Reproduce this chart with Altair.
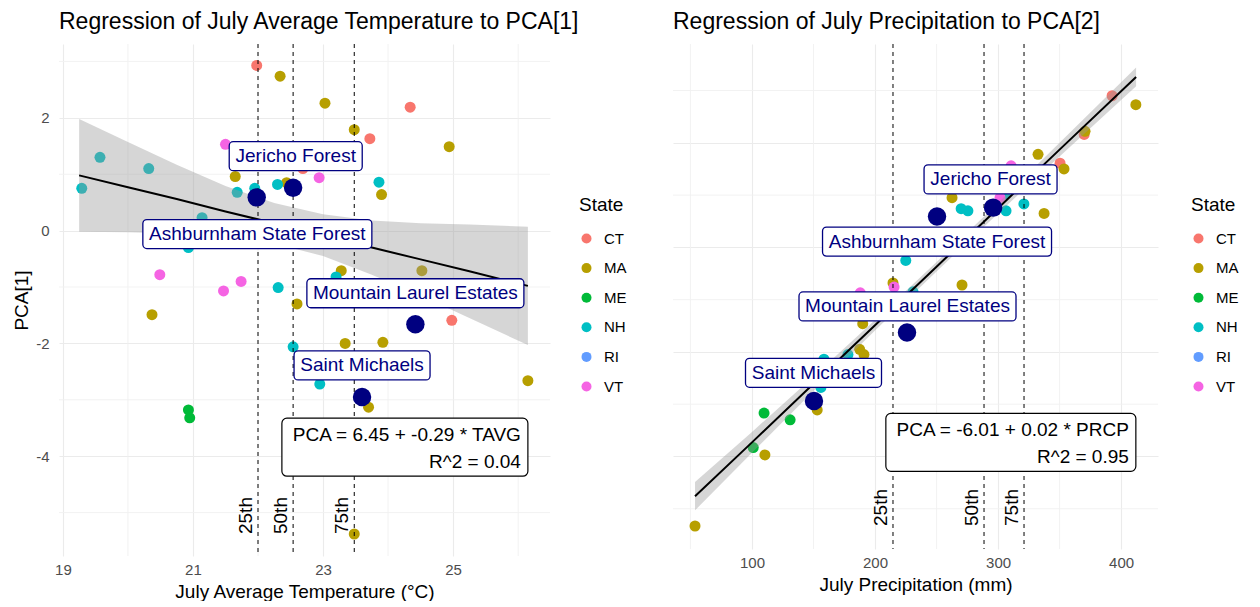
import altair as alt
import pandas as pd

FONT = "Liberation Sans"
NAVY = "#000080"
STATES = ["CT", "MA", "ME", "NH", "RI", "VT"]
STATE_COLORS = ["#F8766D", "#B79F00", "#00BA38", "#00BFC4", "#619CFF", "#F564E3"]

# ---------------- Left panel: July average temperature vs PCA[1] ----------------
t_state = (["CT"] * 5 + ["MA"] * 16 + ["ME"] * 2 + ["NH"] * 13 + ["VT"] * 5)
t_tavg = [21.98, 22.69, 24.34, 23.72, 24.98,
          22.34, 21.65, 22.44, 22.60, 20.37, 23.03, 23.48, 24.94, 23.90, 23.28,
          24.52, 23.34, 23.92, 23.70, 26.15, 23.48,
          20.93, 20.95,
          19.29, 19.57, 20.32, 21.68, 21.95, 22.30, 21.14, 20.93, 22.31, 23.86,
          23.20, 22.54, 22.95,
          21.50, 22.94, 20.49, 21.47, 21.74]
t_pca = [2.93, 1.10, 2.19, 1.63, -1.59,
         2.74, 0.96, 0.85, -1.30, -1.49, 2.26, 1.79, 1.49, 0.64, -0.71,
         -0.71, -2.00, -1.98, -3.13, -2.66, -5.38,
         -3.18, -3.32,
         0.75, 1.30, 1.10, 0.68, 0.75, 0.82, 0.23, -0.30, -1.01, 0.86,
         -0.82, -2.06, -2.72,
         1.53, 0.94, -0.78, -1.07, -0.90]

# ---------------- Right panel: July precipitation vs PCA[2] ----------------
p_state = (["CT"] * 3 + ["MA"] * 14 + ["ME"] * 3 + ["NH"] * 10 + ["VT"] * 4)
p_prcp = [392.7, 370.0, 350.4,
          412.0, 370.7, 332.5, 353.6, 262.6, 337.4, 214.6, 270.7, 190.0, 187.5,
          191.0, 153.0, 110.5, 53.7,
          109.8, 131.0, 101.0,
          321.0, 270.0, 275.5, 305.7, 306.5, 225.0, 230.9, 178.0, 158.5, 156.0,
          310.6, 301.6, 215.5, 188.0]
p_pca = [2.90, 2.16, 1.61,
         2.73, 2.22, 1.78, 1.50, 0.95, 0.65, -0.68, -0.72, -1.46, -1.95,
         -2.05, -3.11, -3.97, -5.33,
         -3.17, -3.30, -3.83,
         0.83, 0.74, 0.70, 1.02, 0.70, -0.25, -0.85, -2.05, -2.14, -2.68,
         1.56, 0.95, -0.76, -0.87]

# ---------------- Highlighted sites ----------------
sites = ["Jericho Forest", "Ashburnham State Forest", "Mountain Laurel Estates", "Saint Michaels"]
site_tavg = [22.54, 21.98, 24.42, 23.60]
site_pca1 = [0.76, 0.59, -1.66, -2.95]
site_lab_tavg = [22.58, 21.99, 24.42, 23.60]
site_lab_pca1 = [1.32, -0.06, -1.11, -2.39]
site_prcp = [296.0, 250.4, 226.0, 150.4]
site_pca2 = [0.76, 0.59, -1.63, -2.94]
site_lab_prcp = [293.9, 250.4, 226.4, 150.0]
site_lab_pca2 = [1.30, 0.11, -1.13, -2.40]

# ---------------- Fitted lines and confidence bands ----------------
fit_tavg = [19.25, 20.0, 20.75, 21.5, 22.25, 23.0, 23.75, 24.5, 25.25, 26.15]
fit_pca1 = [0.98, 0.77, 0.56, 0.34, 0.13, -0.08, -0.30, -0.51, -0.72, -0.98]
fit_pca1_lo = [-0.02, -0.03, -0.05, -0.11, -0.23, -0.45, -0.78, -1.15, -1.55, -2.03]
fit_pca1_hi = [1.98, 1.57, 1.17, 0.79, 0.49, 0.29, 0.18, 0.13, 0.11, 0.07]

fit_prcp = [53.7, 100, 150, 200, 250, 300, 350, 412.2]
fit_pca2 = [-4.76, -3.73, -2.61, -1.49, -0.37, 0.75, 1.87, 3.26]
fit_pca2_lo = [-5.03, -3.93, -2.75, -1.59, -0.46, 0.65, 1.74, 3.08]
fit_pca2_hi = [-4.49, -3.53, -2.47, -1.39, -0.28, 0.85, 2.00, 3.44]

# ---------------- Percentiles ----------------
pct_labels = ["25th", "50th", "75th"]
pct_tavg = [22.00, 22.54, 23.48]
pct_prcp = [214.6, 288.6, 321.1]

# ---------------- Axis ticks ----------------
tavg_ticks = [19, 21, 23, 25]
tavg_minor = [20, 22, 24, 26]
prcp_ticks = [100, 200, 300, 400]
prcp_minor = [50, 150, 250, 350]
pca_ticks = [-4, -2, 0, 2]
pca_minor = [-5, -3, -1, 1, 3]

eq_left = "PCA = 6.45 + -0.29 * TAVG\nR^2 = 0.04"
eq_right = "PCA = -6.01 + 0.02 * PRCP\nR^2 = 0.95"

LABEL_W = [133, 229, 217, 136]
NEG_LABEL = "datum.value < 0 ? '-' + abs(datum.value) : '' + datum.value"


def panel(pts, hl, lab, fit, pct, eq, xdom, ydom, xt, xm, yt, ym, w, h,
          title, xtitle, ytitle, eq_w, eq_cy, legend_x, legend_y, show_y):
    xaxis = alt.Axis(values=xt, title=xtitle, labelPadding=6, titlePadding=5)
    if show_y:
        yaxis = alt.Axis(values=yt, title=ytitle, labelPadding=10, titlePadding=4,
                         labelExpr=NEG_LABEL)
    else:
        yaxis = alt.Axis(values=yt, title=None, labels=False, minExtent=0, maxExtent=0)
    xs = alt.Scale(domain=xdom, nice=False, zero=False)
    ys = alt.Scale(domain=ydom, nice=False, zero=False)

    def X(f):
        return alt.X(f, type="quantitative", scale=xs, axis=xaxis)

    def Y(f):
        return alt.Y(f, type="quantitative", scale=ys, axis=yaxis)

    layers = []
    layers.append(alt.Chart(pd.DataFrame({"v": xm})).mark_rule(color="#f0f0f0", strokeWidth=0.9)
                  .encode(x=X("v")))
    layers.append(alt.Chart(pd.DataFrame({"v": ym})).mark_rule(color="#f0f0f0", strokeWidth=0.9)
                  .encode(y=Y("v")))
    layers.append(alt.Chart(pts).mark_circle(size=121, opacity=1).encode(
        x=X("x"), y=Y("y"),
        color=alt.Color("state:N", scale=alt.Scale(domain=STATES, range=STATE_COLORS),
                        legend=alt.Legend(title="State", orient="none", legendX=legend_x,
                                          legendY=legend_y, symbolType="circle",
                                          symbolSize=100, symbolStrokeWidth=0,
                                          rowPadding=13.6, titlePadding=16, labelOffset=10,
                                          padding=0))))
    layers.append(alt.Chart(fit).mark_area(color="#999999", opacity=0.4).encode(
        x=X("x"), y=Y("lo"), y2="hi"))
    layers.append(alt.Chart(fit).mark_line(color="black", strokeWidth=2).encode(
        x=X("x"), y=Y("fit")))
    layers.append(alt.Chart(pct).mark_rule(color="black", strokeDash=[4, 4], strokeWidth=1)
                  .encode(x=X("p")))
    layers.append(alt.Chart(pct).mark_text(angle=270, align="left", baseline="alphabetic",
                                           dy=-6, fontSize=19, color="black")
                  .encode(x=X("p"), y=Y("ybase"), text="lab"))
    layers.append(alt.Chart(hl).mark_circle(size=340, color=NAVY, opacity=1).encode(
        x=X("x"), y=Y("y")))
    for i in range(len(lab)):
        row = lab.iloc[[i]]
        bw = LABEL_W[i]
        layers.append(alt.Chart(row).mark_rect(
            fill="white", stroke=NAVY, strokeWidth=1.3, cornerRadius=4,
            xOffset=-bw / 2, x2Offset=bw / 2, yOffset=-14.5, y2Offset=14.5
        ).encode(x=X("lx"), x2="lx", y=Y("ly"), y2="ly"))
        layers.append(alt.Chart(row).mark_text(color=NAVY, fontSize=19, baseline="middle")
                      .encode(x=X("lx"), y=Y("ly"), text="site"))
    eqdf = pd.DataFrame({"ex": [eq[0]], "ey": [eq_cy], "t": [eq[1]]})
    layers.append(alt.Chart(eqdf).mark_rect(
        fill="white", stroke="black", strokeWidth=1.2, cornerRadius=5,
        xOffset=-eq_w, x2Offset=0, yOffset=-29, y2Offset=29
    ).encode(x=X("ex"), x2="ex", y=Y("ey"), y2="ey"))
    layers.append(alt.Chart(eqdf).mark_text(align="right", dx=-7, dy=-12, lineBreak="\n",
                                            lineHeight=27, fontSize=19, baseline="middle",
                                            color="black")
                  .encode(x=X("ex"), y=Y("ey"), text="t"))
    return alt.layer(*layers).properties(
        width=w, height=h,
        title=alt.TitleParams(title, anchor="start", frame="group", fontSize=23, offset=10))


left_pts = pd.DataFrame({"x": t_tavg, "y": t_pca, "state": t_state})
left_hl = pd.DataFrame({"x": site_tavg, "y": site_pca1})
left_lab = pd.DataFrame({"lx": site_lab_tavg, "ly": site_lab_pca1, "site": sites})
left_fit = pd.DataFrame({"x": fit_tavg, "fit": fit_pca1, "lo": fit_pca1_lo, "hi": fit_pca1_hi})
left_pct = pd.DataFrame({"p": pct_tavg, "lab": pct_labels, "ybase": [min(t_pca)] * 3})

right_pts = pd.DataFrame({"x": p_prcp, "y": p_pca, "state": p_state})
right_hl = pd.DataFrame({"x": site_prcp, "y": site_pca2})
right_lab = pd.DataFrame({"lx": site_lab_prcp, "ly": site_lab_pca2, "site": sites})
right_fit = pd.DataFrame({"x": fit_prcp, "fit": fit_pca2, "lo": fit_pca2_lo, "hi": fit_pca2_hi})
right_pct = pd.DataFrame({"p": pct_prcp, "lab": pct_labels, "ybase": [min(p_pca)] * 3})

left = panel(left_pts, left_hl, left_lab, left_fit, left_pct, (max(t_tavg), eq_left),
             [18.94, 26.49], [-5.77, 3.31], tavg_ticks, tavg_minor, pca_ticks, pca_minor,
             491, 512, "Regression of July Average Temperature to PCA[1]",
             "July Average Temperature (°C)", "PCA[1]", 246, -3.84, 520, 152, True)
right = panel(right_pts, right_hl, right_lab, right_fit, right_pct, (max(p_prcp), eq_right),
              [35.8, 430.0], [-5.77, 3.89], prcp_ticks, prcp_minor, pca_ticks, pca_minor,
              485, 505, "Regression of July Precipitation to PCA[2]",
              "July Precipitation (mm)", "PCA[2]", 250, -3.73, 518, 152, False)

chart = alt.hconcat(left, right, spacing=45).resolve_scale(color="independent").properties(
    padding={"left": 4, "top": 2, "right": 0, "bottom": 0}
).configure(font=FONT).configure_view(stroke=None).configure_axis(
    ticks=False, domain=False, grid=True, gridColor="#ebebeb", gridWidth=1.1,
    labelColor="#4d4d4d", labelFontSize=15, labelFont=FONT,
    titleFontSize=19, titleFontWeight="normal", titleColor="black", titleFont=FONT
).configure_title(
    font=FONT, fontSize=23, fontWeight="normal", color="black", anchor="start"
).configure_legend(
    titleFontSize=19, titleFontWeight="normal", titleColor="black", titleFont=FONT,
    labelFontSize=15, labelColor="black", labelFont=FONT
)

chart.save("out.html", embed_options={"renderer": "svg", "actions": False})
